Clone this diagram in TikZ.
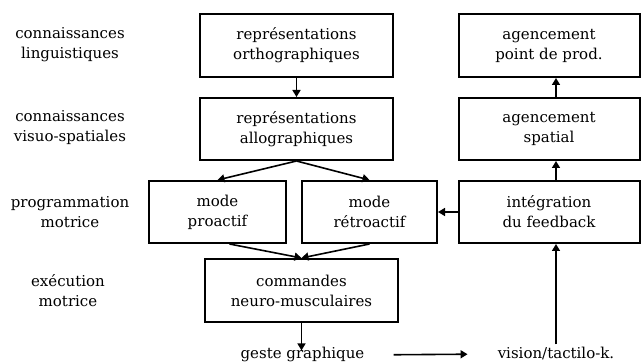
\documentclass[tikz,border=0pt]{standalone}
\usepackage{fontspec}
\setmainfont{DejaVu Serif}
\usetikzlibrary{arrows.meta,calc}
\begin{document}
\begin{tikzpicture}[x=1pt,y=-1pt,
  font=\fontsize{15}{20}\selectfont,
  box/.style={draw,line width=2pt,align=center,inner sep=0pt},
  lbl/.style={align=center,inner sep=0pt},
  conn/.style={line width=1.6pt,-{Triangle[length=7pt,width=8pt]}}]
\useasboundingbox (0,0) rectangle (641,363);
% boxes
\node[box,minimum width=193pt,minimum height=63pt] (o) at (296.5,45.5) {représentations\\orthographiques};
\node[box,minimum width=193pt,minimum height=62pt] (a) at (296.5,129) {représentations\\allographiques};
\node[box,minimum width=137pt,minimum height=62pt] (p) at (217.5,212) {mode\\proactif};
\node[box,minimum width=135pt,minimum height=62pt] (r) at (369.5,212) {mode\\rétroactif};
\node[box,minimum width=193pt,minimum height=63pt] (c) at (301.5,290.5) {commandes\\neuro-musculaires};
\node[box,minimum width=181pt,minimum height=63pt] (pp) at (549,45.5) {agencement\\point de prod.};
\node[box,minimum width=181pt,minimum height=62pt] (s) at (549,129) {agencement\\spatial};
\node[box,minimum width=181pt,minimum height=62pt] (f) at (549,212) {intégration\\du feedback};
% plain texts
\node[lbl,anchor=base] (g) at (302.5,359) {geste graphique};
\node[lbl,anchor=base] (v) at (556,359) {vision/tactilo-k.};
% left labels
\node[lbl] (l1) at (70,45) {connaissances\\linguistiques};
\node[lbl] (l2) at (70,128) {connaissances\\visuo-spatiales};
\node[lbl] (l3) at (70,212) {programmation\\motrice};
\node[lbl] (l4) at (68,291) {exécution\\motrice};
% column for right arrows
\coordinate (rx) at (556,0);
% connectors
\draw[conn] (o.south) -- (a.north);
\draw[conn] (a.south) -- (p.north);
\draw[conn] (a.south) -- (r.north);
\draw[conn] ($(p.south)+(12,0)$) -- (c.north);
\draw[conn] (r.south) -- (c.north);
\draw[conn] (f.west) -- (r.east);
\draw[conn] (f.north -| rx) -- (s.south -| rx);
\draw[conn] (s.north -| rx) -- (pp.south -| rx);
\draw[conn,shorten <=3pt] (v.north -| rx) -- (f.south -| rx);
\draw[conn] (c.south) -- ($(c.south |- g.north)+(0,3)$);
\draw[conn,shorten <=29pt,shorten >=30pt] (g.east) -- (v.west);
\end{tikzpicture}
\end{document}
